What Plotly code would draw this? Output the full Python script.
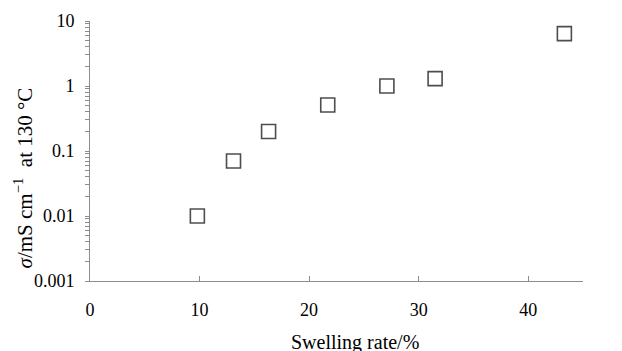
import plotly.graph_objects as go

swelling_rate = [9.8, 13.1, 16.3, 21.7, 27.1, 31.5, 43.3]
conductivity = [0.01, 0.07, 0.2, 0.51, 1.0, 1.3, 6.4]

x_ticks = [0, 10, 20, 30, 40]
y_major = [0.001, 0.01, 0.1, 1, 10]
y_major_text = ["0.001", "0.01", "0.1", "1", "10"]
y_minor = [m * 10.0 ** e for e in range(-3, 1) for m in range(2, 10)]

y_tickvals = y_major + y_minor
y_ticktext = y_major_text + [""] * len(y_minor)

FONT = "Liberation Serif, Times New Roman, serif"
AXIS_COLOR = "#8c8c8c"

fig = go.Figure()
fig.add_trace(go.Scatter(
    x=swelling_rate, y=conductivity, mode="markers",
    marker=dict(symbol="square-open", size=14, color="#4d4d4d",
                line=dict(width=1.6, color="#4d4d4d")),
    showlegend=False,
))

fig.update_layout(
    width=622, height=351,
    margin=dict(l=90, r=39, t=21, b=70),
    paper_bgcolor="white", plot_bgcolor="white",
    font=dict(family=FONT, size=18, color="black"),
    xaxis=dict(
        range=[0, 45], tickvals=x_ticks, ticktext=[str(v) for v in x_ticks],
        showgrid=False, zeroline=False, showline=True, linecolor=AXIS_COLOR,
        linewidth=1, ticks="inside", ticklen=5, tickcolor=AXIS_COLOR,
        ticklabelstandoff=12, tickfont=dict(size=18),
    ),
    yaxis=dict(
        type="log", range=[-3, 1], tickvals=y_tickvals, ticktext=y_ticktext,
        showgrid=False, zeroline=False, showline=True, linecolor=AXIS_COLOR,
        linewidth=1, ticks="outside", ticklen=4, tickcolor=AXIS_COLOR,
        ticklabelstandoff=7, tickfont=dict(size=18),
    ),
    annotations=[
        dict(text="Swelling rate/%", xref="paper", yref="paper",
             x=0.5375, y=-0.238, xanchor="center", yanchor="middle",
             showarrow=False, font=dict(family=FONT, size=20, color="black")),
        dict(text="<i>σ</i>/mS cm<sup>−1</sup>&nbsp; at 130 °C", xref="paper", yref="paper",
             x=-0.134, y=0.398, xanchor="center", yanchor="middle", textangle=-90,
             showarrow=False, font=dict(family=FONT, size=21, color="black")),
    ],
)

fig.write_html("out.html")
